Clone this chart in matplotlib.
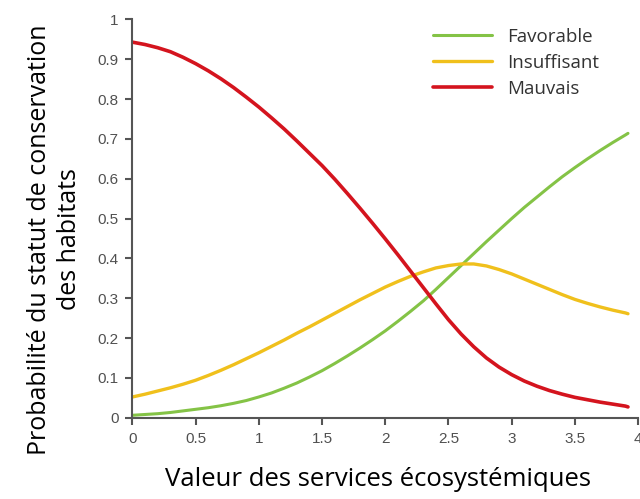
import matplotlib.pyplot as plt

# valeurs (pas de 0.1)
x = [0.0, 0.1, 0.2, 0.3, 0.4, 0.5, 0.6, 0.7, 0.8, 0.9,
     1.0, 1.1, 1.2, 1.3, 1.4, 1.5, 1.6, 1.7, 1.8, 1.9,
     2.0, 2.1, 2.2, 2.3, 2.4, 2.5, 2.6, 2.7, 2.8, 2.9,
     3.0, 3.1, 3.2, 3.3, 3.4, 3.5, 3.6, 3.7, 3.8, 3.9, 3.92]
favorable = [0.006, 0.008, 0.010, 0.013, 0.017, 0.021, 0.025, 0.030, 0.036, 0.043,
             0.052, 0.062, 0.074, 0.087, 0.102, 0.118, 0.136, 0.155, 0.175, 0.196,
             0.218, 0.242, 0.267, 0.293, 0.322, 0.352, 0.382, 0.412, 0.442, 0.471,
             0.500, 0.528, 0.554, 0.580, 0.605, 0.628, 0.650, 0.671, 0.691, 0.710, 0.714]
insuffisant = [0.052, 0.059, 0.067, 0.075, 0.084, 0.094, 0.106, 0.119, 0.133, 0.148,
               0.163, 0.179, 0.195, 0.212, 0.228, 0.245, 0.262, 0.279, 0.296, 0.312,
               0.328, 0.342, 0.355, 0.366, 0.376, 0.382, 0.386, 0.386, 0.381, 0.372,
               0.361, 0.348, 0.335, 0.322, 0.309, 0.297, 0.287, 0.278, 0.270, 0.263, 0.261]
mauvais = [0.943, 0.937, 0.929, 0.919, 0.905, 0.889, 0.871, 0.851, 0.829, 0.805,
           0.780, 0.753, 0.725, 0.695, 0.664, 0.633, 0.599, 0.563, 0.526, 0.488,
           0.449, 0.409, 0.368, 0.327, 0.286, 0.246, 0.210, 0.178, 0.150, 0.127,
           0.108, 0.092, 0.079, 0.068, 0.059, 0.051, 0.045, 0.039, 0.034, 0.029, 0.027]

xticks = [0, 0.5, 1, 1.5, 2, 2.5, 3, 3.5, 4]
xtick_labels = ["0", "0.5", "1", "1.5", "2", "2.5", "3", "3.5", "4"]
yticks = [0, 0.1, 0.2, 0.3, 0.4, 0.5, 0.6, 0.7, 0.8, 0.9, 1]
ytick_labels = ["0", "0.1", "0.2", "0.3", "0.4", "0.5", "0.6", "0.7", "0.8", "0.9", "1"]

fig = plt.figure(figsize=(6.4, 4.99), dpi=100)
ax = fig.add_axes([0.207, 0.163, 0.79, 0.798])

ax.plot(x, favorable, color="#84c346", lw=2.2, label="Favorable", solid_capstyle="round")
ax.plot(x, insuffisant, color="#f0c01c", lw=2.4, label="Insuffisant", solid_capstyle="round")
ax.plot(x, mauvais, color="#d4141e", lw=2.6, label="Mauvais", solid_capstyle="round")

ax.set_xlim(0, 4)
ax.set_ylim(0, 1)
ax.set_xticks(xticks)
ax.set_xticklabels(xtick_labels, fontfamily="Liberation Sans", fontsize=11, color="#505050")
ax.set_yticks(yticks)
ax.set_yticklabels(ytick_labels, fontfamily="Liberation Sans", fontsize=11, color="#505050")
ax.tick_params(direction="out", length=5, width=1.5, color="#555555", pad=5)

for s in ["top", "right"]:
    ax.spines[s].set_visible(False)
for s in ["left", "bottom"]:
    ax.spines[s].set_color("#555555")
    ax.spines[s].set_linewidth(1.5)

ax.set_xlabel("Valeur des services écosystémiques", fontfamily="Open Sans", fontsize=18.5)
ax.xaxis.set_label_coords(0.485, -0.125)
ax.set_ylabel("Probabilité du statut de conservation\ndes habitats", fontfamily="Open Sans",
              fontsize=18, linespacing=1.25)
ax.yaxis.set_label_coords(-0.1, 0.448)

leg = ax.legend(loc="upper left", bbox_to_anchor=(433 / 640, 1 - 28 / 499), bbox_transform=fig.transFigure,
                frameon=False, handlelength=3.15, handletextpad=0.8, borderpad=0, borderaxespad=0,
                prop={"family": "Open Sans", "size": 13.5}, labelspacing=0.42)
for t in leg.get_texts():
    t.set_color("#333333")

fig.savefig("out.png", dpi=100)
